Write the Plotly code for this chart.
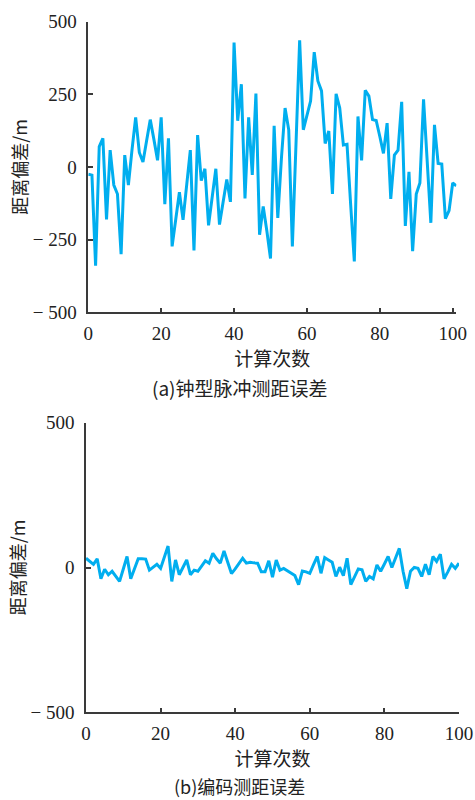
import plotly.graph_objects as go

# ---- data ----
iter_a = list(range(0, 102))
err_bell = [-25, -28, -340, 70, 99, -180, 58, -62, -93, -300,
            41, -62, 60, 171, 50, 17, 90, 163, 95, 23,
            171, -128, 99, -273, -180, -87, -182, -60, 58, -287,
            110, -47, -6, -201, -100, -6, -198, -120, -43, -120,
            428, 159, 285, -108, 171, -27, 253, -233, -136, -220,
            -315, 142, -175, 30, 203, 128, -273, 80, 436, 128,
            175, 227, 395, 296, 262, 81, 124, -93, 252, 203,
            76, 78, -130, -325, 174, 23, 264, 244, 163, 160,
            105, 47, 151, -110, 41, 58, 224, -203, -17, -290,
            -93, -55, 233, 40, -192, 145, 12, 10, -178, -150,
            -55, -65]

iter_b = list(range(0, 101))
err_code = [32, 20, 11, 30, -39, -6, -25, -13, -30, -48,
            -5, 38, -39, -5, 30, 30, 29, -9, 0, 11,
            -3, 35, 74, -48, 26, -25, 0, 26, -25, -9,
            -13, 5, 23, 15, 49, 30, 15, 57, 20, -21,
            -5, 15, 32, 15, 18, 16, 15, -15, -15, 23,
            -33, 26, -9, -3, -12, -20, -28, -59, -12, -15,
            -20, 10, 38, -20, 34, 26, 18, -31, 1, -28,
            32, -59, -30, -5, -8, -48, -31, -39, 9, -13,
            12, 38, 0, 30, 66, -13, -73, -13, 0, -3,
            -31, 11, -25, 38, 21, 46, -39, -15, 11, -3,
            15]

x_ticks = [0, 20, 40, 60, 80, 100]
y_ticks_a = [-500, -250, 0, 250, 500]
y_ticklabels_a = ["\u2212 500", "\u2212 250", "0", "250", "500"]
y_ticks_b = [-500, 0, 500]
y_ticklabels_b = ["\u2212 500", "0", "500"]

x_title = "计算次数"
y_title = "距离偏差/m"
caption_a = "(a)钟型脉冲测距误差"
caption_b = "(b)编码测距误差"

LINE = "#00AEEF"
AX = "#3a3a3a"
FONT = "'Liberation Serif', 'Times New Roman', 'Noto Sans CJK SC', serif"
CJK = "'Noto Sans CJK SC', sans-serif"

W, H = 475, 800


def px_x(v):
    return v / W


def px_y(v):
    return 1 - v / H


fig = go.Figure()
fig.add_trace(go.Scatter(x=iter_a, y=err_bell, mode="lines",
                         line=dict(color=LINE, width=3), xaxis="x", yaxis="y",
                         showlegend=False))
fig.add_trace(go.Scatter(x=iter_b, y=err_code, mode="lines",
                         line=dict(color=LINE, width=3), xaxis="x2", yaxis="y2",
                         showlegend=False))

common_x = dict(showline=True, linecolor=AX, linewidth=1.5, ticks="inside",
                ticklen=5, tickcolor=AX, tickwidth=1.5, showgrid=False,
                zeroline=False, tickvals=x_ticks, ticklabelstandoff=3,
                automargin=False,
                tickfont=dict(family=FONT, size=19, color="#222"),
                title=dict(text=x_title, standoff=2,
                           font=dict(family=CJK, size=19, color="#222")))
common_y = dict(showline=True, linecolor=AX, linewidth=1.5, ticks="inside",
                ticklen=5, tickcolor=AX, tickwidth=1.5, showgrid=False,
                zeroline=False, ticklabelstandoff=6, automargin=False,
                tickfont=dict(family=FONT, size=19, color="#222"),
                title=dict(text=y_title, standoff=0,
                           font=dict(family=CJK, size=18, color="#222")))

x1_dom = [px_x(88.3), px_x(88.3 + 3.644 * 101)]
y1_dom = [px_y(312.3), px_y(21.7)]
x2_dom = [px_x(86.0), px_x(459.0)]
y2_dom = [px_y(712.3), px_y(422.7)]

fig.update_layout(
    width=W, height=H,
    margin=dict(l=0, r=0, t=0, b=0, autoexpand=False),
    paper_bgcolor="white", plot_bgcolor="white",
    xaxis=dict(domain=x1_dom, range=[0, 101], anchor="y", **common_x),
    yaxis=dict(domain=y1_dom, range=[-500, 500], anchor="x",
               tickvals=y_ticks_a, ticktext=y_ticklabels_a, **common_y),
    xaxis2=dict(domain=x2_dom, range=[0, 100], anchor="y2", **common_x),
    yaxis2=dict(domain=y2_dom, range=[-500, 500], anchor="x2",
                tickvals=y_ticks_b, ticktext=y_ticklabels_b, **common_y),
    annotations=[
        dict(text=caption_a, x=px_x(240), y=px_y(387), xref="paper", yref="paper",
             showarrow=False, xanchor="center", yanchor="middle",
             font=dict(family=CJK, size=19, color="#222")),
        dict(text=caption_b, x=px_x(239), y=px_y(786), xref="paper", yref="paper",
             showarrow=False, xanchor="center", yanchor="middle",
             font=dict(family=CJK, size=18, color="#222")),
    ],
)

fig.write_html(
    "out.html",
    config={"displayModeBar": False},
    post_script="document.body.style.margin='0';document.body.style.overflow='hidden';",
)
